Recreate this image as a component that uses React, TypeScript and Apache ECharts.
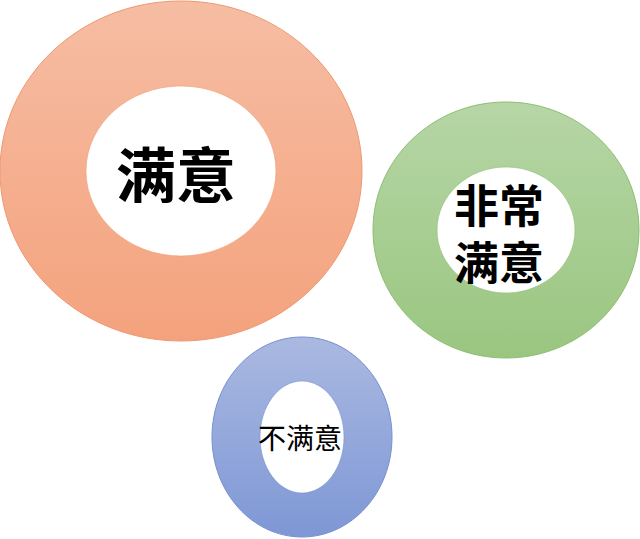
import React, { useEffect, useRef } from 'react';
import * as echarts from 'echarts';

// one entry per ring
const labels = [['满意'], ['非常', '满意'], ['不满意']];
const centerX = [181, 506, 302];
const centerY = [171, 230, 437];
const outerRX = [181, 133, 90];
const outerRY = [170, 128, 100];
const innerRX = [95, 69, 42];
const innerRY = [85, 63, 56];

const topColors = ['#F6BDA3', '#B6D6A6', '#AAB9E1'];
const bottomColors = ['#F4A27D', '#9AC680', '#7E97D5'];
const edgeColors = ['#EE9870', '#8DBE72', '#7690CF'];
const fontSizes = [60, 45, 28];
const fontWeights = ['bold', 'bold', 'normal'];
const lineGap = [0, 57, 0];
const textDX = [-5, -7, -2];
const textDY = [0, 2, 0];

const App: React.FC = () => {
  const chartRef = useRef<HTMLDivElement>(null);

  useEffect(() => {
    document.body.style.margin = '0';
    if (!chartRef.current) return;
    const chart = echarts.init(chartRef.current, undefined, { renderer: 'svg' });

    const data = labels.map((_, i) => [
      centerX[i],
      centerY[i],
      outerRX[i],
      outerRY[i],
      innerRX[i],
      innerRY[i],
    ]);

    chart.setOption({
      animation: false,
      grid: { left: 0, right: 0, top: 0, bottom: 0 },
      xAxis: { type: 'value', min: 0, max: 640, show: false },
      yAxis: { type: 'value', min: 0, max: 539, inverse: true, show: false },
      series: [
        {
          type: 'custom',
          coordinateSystem: 'cartesian2d',
          data,
          renderItem: (params: any, api: any) => {
            const i = params.dataIndex;
            const c = api.coord([api.value(0), api.value(1)]);
            const o = api.size([api.value(2), api.value(3)]);
            const n = api.size([api.value(4), api.value(5)]);
            const lines = labels[i];
            const texts = lines.map((line, k) => ({
              type: 'text',
              x: c[0] + textDX[i],
              y: c[1] + textDY[i] + (k - (lines.length - 1) / 2) * lineGap[i],
              style: {
                text: line,
                fill: '#000000',
                font: `${fontWeights[i]} ${fontSizes[i]}px "Noto Sans CJK SC"`,
                align: 'center',
                verticalAlign: 'middle',
              },
            }));
            return {
              type: 'group',
              children: [
                {
                  type: 'ellipse',
                  shape: { cx: c[0], cy: c[1], rx: o[0], ry: o[1] },
                  style: {
                    fill: new echarts.graphic.LinearGradient(0, 0, 0, 1, [
                      { offset: 0, color: topColors[i] },
                      { offset: 1, color: bottomColors[i] },
                    ]),
                    stroke: edgeColors[i],
                    lineWidth: 1,
                  },
                },
                {
                  type: 'ellipse',
                  shape: { cx: c[0], cy: c[1], rx: n[0], ry: n[1] },
                  style: { fill: '#ffffff', stroke: edgeColors[i], lineWidth: 0.6 },
                },
                ...texts,
              ],
            };
          },
        },
      ],
    });

    return () => {
      chart.dispose();
    };
  }, []);

  return <div ref={chartRef} style={{ width: '640px', height: '539px' }} />;
};

export default App;
